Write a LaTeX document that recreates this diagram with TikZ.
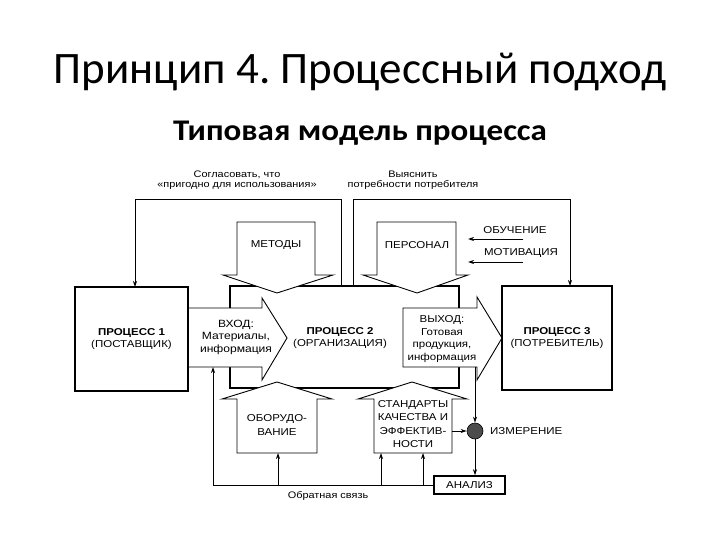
\documentclass[tikz,border=0pt]{standalone}
\usepackage{fontspec}
\setmainfont{Liberation Sans}
\newfontfamily\diag[FakeStretch=1.15]{Liberation Sans}
\newfontfamily\ttlfont{Carlito}
\newfontfamily\subfont[FakeStretch=1.1]{Carlito}
\usetikzlibrary{arrows.meta}
\frenchspacing
\begin{document}
\begin{tikzpicture}[x=1pt,y=-1pt,
  blk/.style={draw=black, line width=0.9pt, fill=white, line join=miter},
  proc/.style={draw=black, line width=1.9pt, fill=white, inner sep=0pt},
  conn/.style={draw=black, line width=0.8pt, -{Stealth[length=6pt,width=4pt]}},
  plain/.style={draw=black, line width=0.8pt},
  lbl/.style={font=\diag\fontsize{10}{12.5}\selectfont, align=center, inner sep=0pt},
  alb/.style={font=\diag\fontsize{10.5}{12.5}\selectfont, align=center, inner sep=0pt},
  small/.style={font=\diag\fontsize{9.5}{10.5}\selectfont, align=center, inner sep=0pt}
]
\useasboundingbox (0,0) rectangle (720,540);
\fill[white] (0,0) rectangle (720,540);

% titles
\node[inner sep=0pt] (title) at (360,72) {\ttlfont\fontsize{45}{48}\selectfont Принцип 4. Процессный подход};
\node[inner sep=0pt] (subtitle) at (360,133) {\subfont\bfseries\fontsize{30}{32}\selectfont Типовая модель процесса};

% process 2
\node[draw=black, line width=1.5pt, fill=white, minimum width=229pt, minimum height=102pt, inner sep=0pt] (p2) at (344.5,337) {};

% top connectors
\coordinate (tl) at (341,199);
\coordinate (tr) at (353,199);
\coordinate (p1t) at (135,287);
\coordinate (p3t) at (570,286);
\draw[conn] (p2.north -| tl) -- (tl) -| (p1t);
\draw[conn] (p2.north -| tr) -- (tr) -| (p3t);
\node[small] (soglas) at (237,180) {Согласовать, что\\«пригодно для использования»};
\node[small] (vyyasn) at (413,180) {Выяснить\\потребности потребителя};

% block arrows
\draw[blk] (237,222) -- (315,222) -- (315,275) -- (333,275) -- (277,293) -- (223,275) -- (237,275) -- cycle;
\node[lbl] (metody) at (276,245) {МЕТОДЫ};
\draw[blk] (377,222) -- (456,222) -- (456,275) -- (468,275) -- (417,293) -- (363,275) -- (377,275) -- cycle;
\node[lbl] (personal) at (417,245) {ПЕРСОНАЛ};

\draw[blk] (237,453) -- (317,453) -- (317,399) -- (332,399) -- (277,382) -- (222,399) -- (237,399) -- cycle;
\node[lbl, font=\diag\fontsize{10}{14}\selectfont] (oborud) at (277,425) {ОБОРУДО-\\ВАНИЕ};
\draw[blk] (374,453) -- (452,453) -- (452,399) -- (467,399) -- (412,382) -- (358,399) -- (374,399) -- cycle;
\node[lbl, font=\diag\fontsize{10}{13.3}\selectfont] (stand) at (413,424) {СТАНДАРТЫ\\КАЧЕСТВА И\\ЭФФЕКТИВ-\\НОСТИ};

\draw[blk] (188,308) -- (262,308) -- (262,298) -- (287,338) -- (262,380) -- (262,367) -- (188,367) -- cycle;
\node[alb] (vhod) at (236,337) {ВХОД:\\Материалы,\\информация};
\draw[blk] (403,308) -- (477,308) -- (477,297) -- (502,338) -- (477,380) -- (477,367) -- (403,367) -- cycle;
\node[alb, font=\diag\fontsize{10}{12.8}\selectfont] (vyhod) at (442,339) {ВЫХОД:\\Готовая\\продукция,\\информация};

\node[lbl] (p2t) at (340,338) {\textbf{ПРОЦЕСС 2}\\(ОРГАНИЗАЦИЯ)};

% process 1 and 3
\node[proc, minimum width=113pt, minimum height=104pt, lbl] (p1) at (131.5,339) {\textbf{ПРОЦЕСС 1}\\(ПОСТАВЩИК)};
\node[proc, minimum width=110pt, minimum height=104pt, lbl] (p3) at (557,338) {\textbf{ПРОЦЕСС 3}\\(ПОТРЕБИТЕЛЬ)};

% training / motivation
\coordinate (obs) at (523,239);
\coordinate (obe) at (468,239);
\coordinate (mos) at (523,262);
\coordinate (moe) at (468,262);
\draw[conn] (obs) -- (obe);
\draw[conn] (mos) -- (moe);
\node[lbl] (obuch) at (515,230) {ОБУЧЕНИЕ};
\node[lbl] (motiv) at (521,253) {МОТИВАЦИЯ};

% measurement
\node[circle, draw=black, line width=0.6pt, fill=black!70, minimum size=16pt, inner sep=0pt] (meas) at (475,431) {};
\node[lbl, anchor=west] (izmer) at (490,431) {ИЗМЕРЕНИЕ};
\node[draw=black, line width=1.5pt, fill=white, minimum width=71pt, minimum height=18pt, inner sep=0pt, lbl] (anal) at (469.5,485) {АНАЛИЗ};
\coordinate (vyb) at (475,367);
\draw[conn] (vyb) -- (meas.north);
\draw[conn] (meas.south) -- (meas.south |- anal.north);
\coordinate (stR) at (452,431);
\draw[conn] (stR) -- (meas.west);

% feedback
\coordinate (fbL) at (213,485);
\coordinate (vhb) at (213,367);
\draw[plain] (anal.west) -- (fbL);
\draw[conn] (fbL) -- (vhb);
\coordinate (f1) at (278,485);
\coordinate (f1e) at (278,453);
\coordinate (f2) at (381,485);
\coordinate (f2e) at (381,453);
\coordinate (f3) at (423,485);
\coordinate (f3e) at (423,453);
\draw[conn] (f1) -- (f1e);
\draw[conn] (f2) -- (f2e);
\draw[conn] (f3) -- (f3e);
\node[small] (obrat) at (328,496) {Обратная связь};
\end{tikzpicture}
\end{document}
